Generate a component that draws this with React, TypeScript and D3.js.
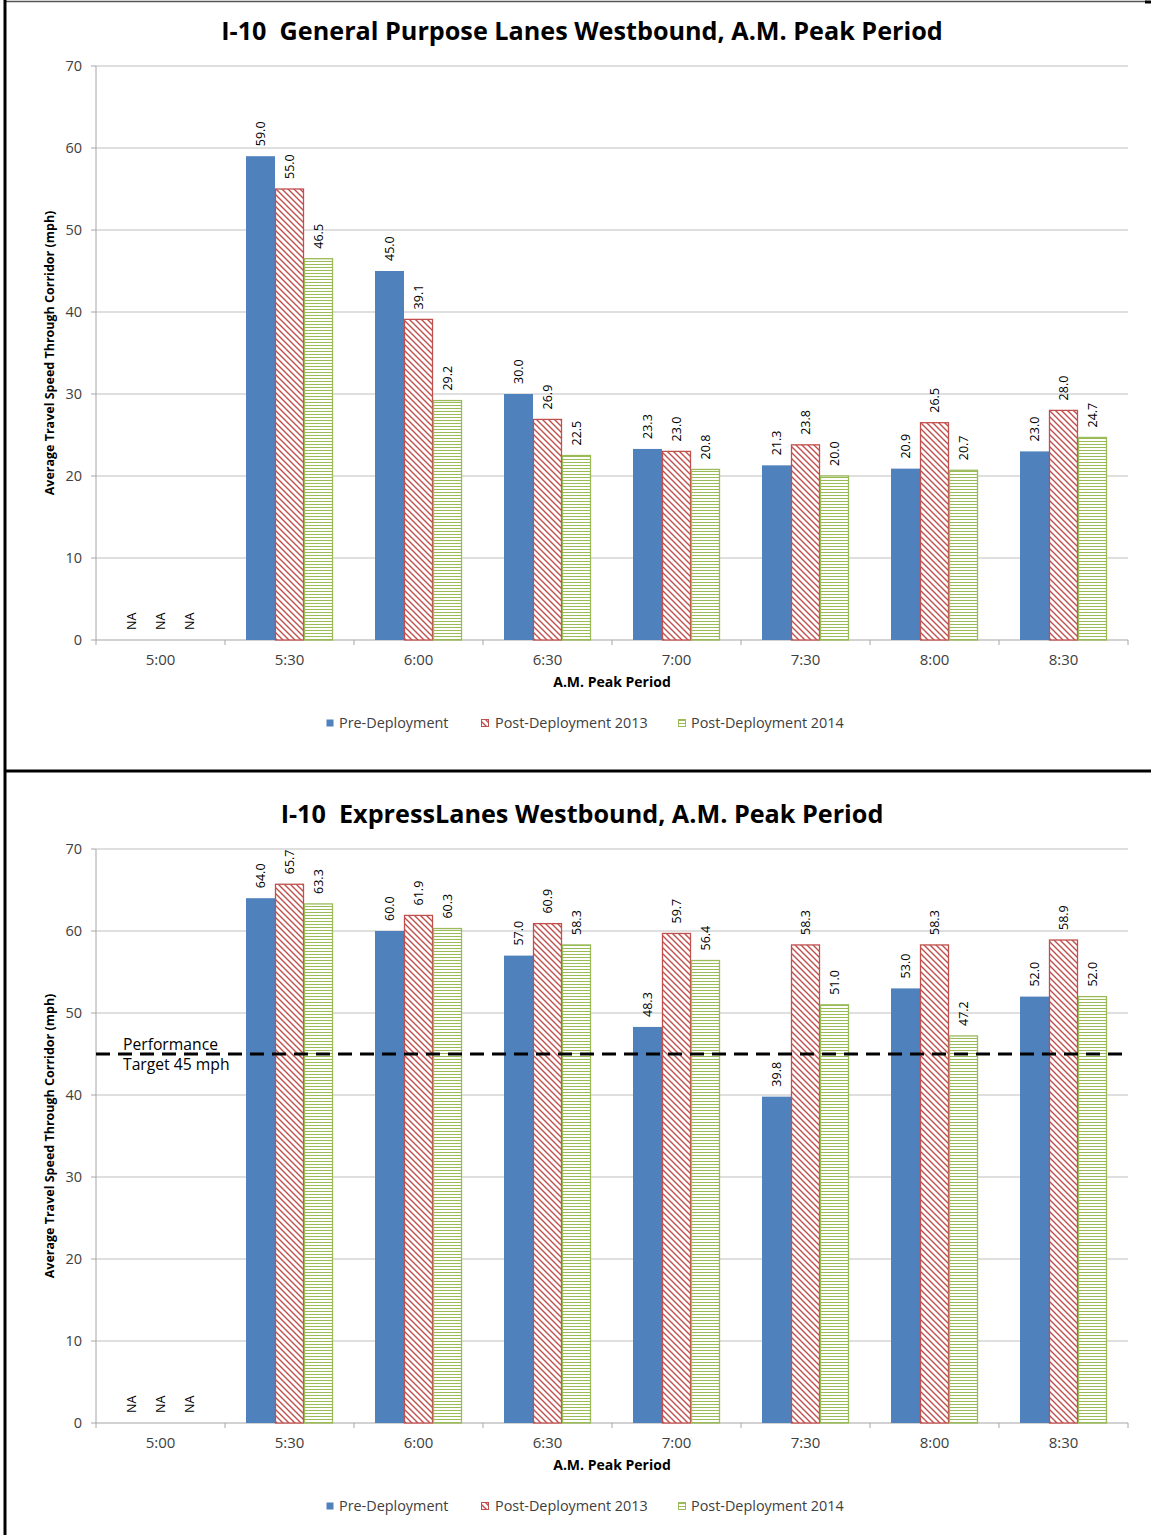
import React from "react";
import * as d3 from "d3";

const categories = ["5:00", "5:30", "6:00", "6:30", "7:00", "7:30", "8:00", "8:30"];
const seriesNames = ["Pre-Deployment", "Post-Deployment 2013", "Post-Deployment 2014"];
const yTicks = [0, 10, 20, 30, 40, 50, 60, 70];

const gpPre: (number | null)[] = [null, 59.0, 45.0, 30.0, 23.3, 21.3, 20.9, 23.0];
const gp2013: (number | null)[] = [null, 55.0, 39.1, 26.9, 23.0, 23.8, 26.5, 28.0];
const gp2014: (number | null)[] = [null, 46.5, 29.2, 22.5, 20.8, 20.0, 20.7, 24.7];

const elPre: (number | null)[] = [null, 64.0, 60.0, 57.0, 48.3, 39.8, 53.0, 52.0];
const el2013: (number | null)[] = [null, 65.7, 61.9, 60.9, 59.7, 58.3, 58.3, 58.9];
const el2014: (number | null)[] = [null, 63.3, 60.3, 58.3, 56.4, 51.0, 47.2, 52.0];

const targetValue = 45;

const FONT = "'Open Sans', Lato, sans-serif";
const BLUE = "#4F81BD";
const RED = "#C0504D";
const GREEN = "#9BBB59";

const W = 1151;
const H = 1535;

const plotLeft = 96;
const plotRight = 1128;

function Patterns() {
  return (
    <defs>
      <pattern id="redHatch" width="6" height="6" patternUnits="userSpaceOnUse">
        <rect width="6" height="6" fill="#fff" />
        <path d="M0,0 L6,6 M-1,5 L1,7 M5,-1 L7,1" stroke={RED} strokeWidth="1.4" />
      </pattern>
      <pattern id="greenHatch" width="6" height="3" patternUnits="userSpaceOnUse">
        <rect width="6" height="3" fill="#fff" />
        <rect y="0" width="6" height="1" fill={GREEN} />
      </pattern>
    </defs>
  );
}

type PanelProps = {
  title: string;
  pre: (number | null)[];
  p13: (number | null)[];
  p14: (number | null)[];
  offsetY: number;
  showTarget?: boolean;
};

function Panel({ title, pre, p13, p14, offsetY, showTarget }: PanelProps) {
  const top = 66;
  const bottom = 640;
  const y = d3.scaleLinear().domain([0, 70]).range([bottom, top]);
  const x0 = d3.scaleBand<string>().domain(categories).range([plotLeft, plotRight]).paddingInner(0).paddingOuter(0);
  const groupW = 87;
  const x1 = d3
    .scaleBand<string>()
    .domain(seriesNames)
    .range([(x0.bandwidth() - groupW) / 2, (x0.bandwidth() + groupW) / 2]);
  const data = [pre, p13, p14];
  const fills = [BLUE, "url(#redHatch)", "url(#greenHatch)"];
  const strokes = ["none", RED, GREEN];

  const legendItems = [
    { x: 326, textX: 339, name: seriesNames[0], fill: BLUE, stroke: "none" },
    { x: 481, textX: 495, name: seriesNames[1], fill: "url(#redHatch)", stroke: RED },
    { x: 678, textX: 691, name: seriesNames[2], fill: "url(#greenHatch)", stroke: GREEN },
  ];

  return (
    <g transform={`translate(0,${offsetY})`}>
      <text x={582} y={40} textAnchor="middle" fontFamily={FONT} fontWeight="bold" fontSize={25.2} fill="#000" style={{ whiteSpace: "pre" }}>
        {title}
      </text>
      {yTicks.map((t) => (
        <g key={t}>
          {t > 0 && <line x1={plotLeft} x2={plotRight} y1={y(t)} y2={y(t)} stroke="#BFBFBF" strokeWidth={1} />}
          <line x1={91} x2={plotLeft} y1={y(t)} y2={y(t)} stroke="#A6A6A6" strokeWidth={1} />
          <text x={82} y={y(t)} dy="0.35em" textAnchor="end" fontFamily={FONT} fontSize={14.5} fill="#404040">
            {t}
          </text>
        </g>
      ))}
      <line x1={plotLeft} x2={plotLeft} y1={top} y2={bottom} stroke="#A6A6A6" strokeWidth={1} />
      <line x1={plotLeft} x2={plotRight} y1={bottom} y2={bottom} stroke="#A6A6A6" strokeWidth={1.2} />
      {categories.map((c, i) => (
        <line key={"tk" + i} x1={(x0(c) as number) + x0.bandwidth()} x2={(x0(c) as number) + x0.bandwidth()} y1={bottom} y2={bottom + 5} stroke="#A6A6A6" />
      ))}
      <line x1={plotLeft} x2={plotLeft} y1={bottom} y2={bottom + 5} stroke="#A6A6A6" />
      {categories.map((c, i) => (
        <g key={c} transform={`translate(${x0(c)},0)`}>
          {seriesNames.map((s, k) => {
            const v = data[k][i];
            const bx = x1(s) as number;
            const bw = x1.bandwidth();
            const cx = bx + bw / 2;
            if (v == null) {
              return (
                <text key={s} transform={`translate(${cx},${y(0) - 10}) rotate(-90)`} dy="0.35em" fontFamily={FONT} fontSize={12.5} fill="#000">
                  NA
                </text>
              );
            }
            return (
              <g key={s}>
                <rect
                  x={bx + (k === 0 ? 0 : 0.5)}
                  y={y(v)}
                  width={bw - (k === 0 ? 0 : 1)}
                  height={y(0) - y(v)}
                  fill={fills[k]}
                  stroke={strokes[k]}
                  strokeWidth={k === 0 ? 0 : 1.3}
                />
                <text transform={`translate(${cx},${y(v) - 10}) rotate(-90)`} dy="0.35em" fontFamily={FONT} fontSize={12.5} fill="#000">
                  {v.toFixed(1)}
                </text>
              </g>
            );
          })}
          <text x={x0.bandwidth() / 2} y={665} textAnchor="middle" fontFamily={FONT} fontSize={15} fill="#404040">
            {c}
          </text>
        </g>
      ))}
      {showTarget && (
        <g>
          <line x1={plotLeft} x2={plotRight} y1={y(targetValue)} y2={y(targetValue)} stroke="#000" strokeWidth={3} strokeDasharray="14,8" />
          <text x={123} y={y(targetValue) - 4} fontFamily={FONT} fontSize={15.7} fill="#000">
            Performance
          </text>
          <text x={123} y={y(targetValue) + 16} fontFamily={FONT} fontSize={15.7} fill="#000">
            Target 45 mph
          </text>
        </g>
      )}
      <text x={612} y={687} textAnchor="middle" fontFamily={FONT} fontWeight="bold" fontSize={14} fill="#000">
        A.M. Peak Period
      </text>
      <text transform={`translate(50,${(top + bottom) / 2}) rotate(-90)`} textAnchor="middle" dy="0.35em" fontFamily={FONT} fontWeight="bold" fontSize={12.5} fill="#000">
        Average Travel Speed Through Corridor (mph)
      </text>
      {legendItems.map((it) => (
        <g key={it.name}>
          <rect x={it.x + 0.5} y={719.5} width={7} height={7} fill={it.fill} stroke={it.stroke} strokeWidth={it.stroke === "none" ? 0 : 1} />
          <text x={it.textX} y={723} dy="0.35em" fontFamily={FONT} fontSize={14.4} fill="#404040">
            {it.name}
          </text>
        </g>
      ))}
    </g>
  );
}

export default function App() {
  return (
    <svg width={W} height={H} style={{ position: "absolute", left: 0, top: 0, background: "#fff" }}>
      <Patterns />
      <rect x={0} y={0} width={W} height={H} fill="#fff" />
      <line x1={5} x2={1147} y1={1.5} y2={1.5} stroke="#555" strokeWidth={1.5} />
      <line x1={1145} x2={1151} y1={2} y2={2} stroke="#000" strokeWidth={3} />
      <line x1={5} x2={5} y1={0} y2={H} stroke="#000" strokeWidth={3} />
      <line x1={5} x2={W} y1={771} y2={771} stroke="#000" strokeWidth={3} />
      <Panel title="I-10  General Purpose Lanes Westbound, A.M. Peak Period" pre={gpPre} p13={gp2013} p14={gp2014} offsetY={0} />
      <Panel title="I-10  ExpressLanes Westbound, A.M. Peak Period" pre={elPre} p13={el2013} p14={el2014} offsetY={783} showTarget />
    </svg>
  );
}
